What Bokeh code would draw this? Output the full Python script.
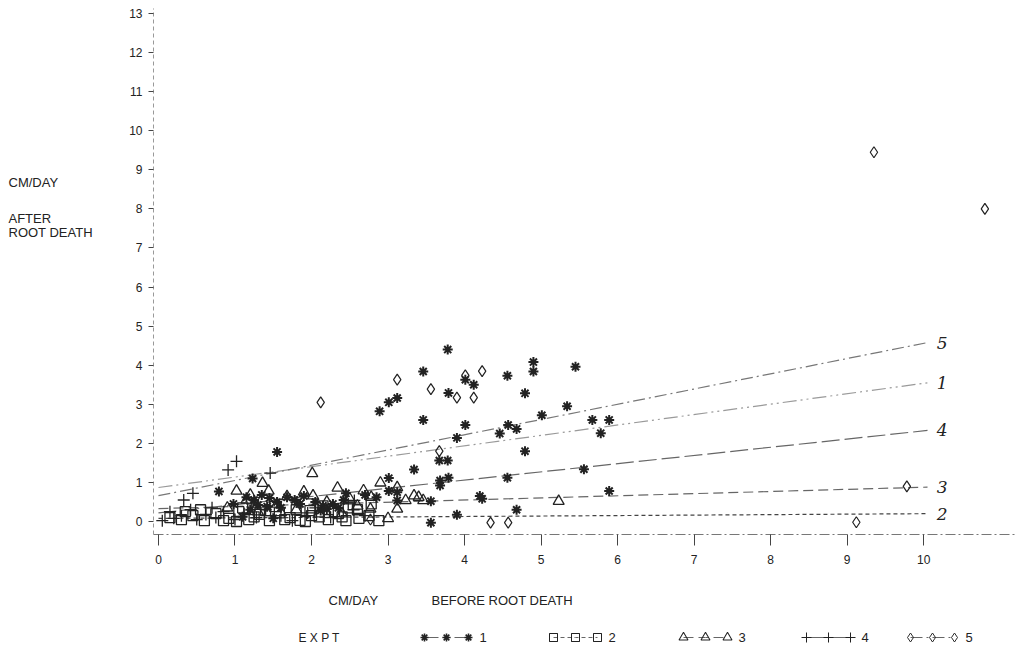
from bokeh.plotting import figure
from bokeh.layouts import column, row
from bokeh.models import FixedTicker
from bokeh.embed import file_html
from bokeh.resources import INLINE
from bokeh.core.properties import value

# Root elongation, cm/day, before (x) and after (y) root death, by experiment
x1 = [3.78, 3.46, 2.89, 3.01, 3.12, 3.79, 4.01, 4.12, 4.56, 4.90, 4.90, 5.45, 4.79,
      3.46, 4.01, 3.90, 4.46, 4.57, 4.68, 5.01, 5.34, 5.67, 5.89, 5.78, 4.79, 3.67,
      3.78, 3.34, 3.01, 3.01, 3.12, 3.68, 3.79, 3.68, 4.56, 5.56, 5.89, 4.23, 4.20,
      3.56, 3.12, 4.68, 3.90, 3.56, 1.55, 0.79, 1.23,
      1.15, 1.25, 1.35, 1.45, 1.30, 1.42, 1.55, 1.68, 1.78, 1.90, 2.05, 2.15, 2.20,
      2.28, 2.35, 1.20, 1.60, 1.85, 2.42, 0.98, 1.10, 1.50, 2.12, 2.70, 2.85, 2.45]
y1 = [4.40, 3.84, 2.82, 3.05, 3.16, 3.29, 3.63, 3.50, 3.73, 4.08, 3.84, 3.96, 3.28,
      2.60, 2.47, 2.14, 2.25, 2.47, 2.37, 2.72, 2.95, 2.60, 2.60, 2.26, 1.80, 1.56,
      1.56, 1.33, 1.11, 0.78, 0.75, 1.05, 1.12, 0.92, 1.12, 1.34, 0.78, 0.58, 0.65,
      0.52, 0.54, 0.30, 0.17, -0.03, 1.78, 0.77, 1.10,
      0.62, 0.55, 0.68, 0.60, 0.42, 0.38, 0.50, 0.62, 0.55, 0.65, 0.50, 0.40, 0.32,
      0.45, 0.35, 0.30, 0.35, 0.45, 0.55, 0.45, 0.12, 0.08, 0.28, 0.68, 0.62, 0.72]

x2 = [0.15, 0.30, 0.45, 0.60, 0.75, 0.92, 1.05, 1.18, 1.32, 1.45, 1.58, 1.72, 1.85,
      1.98, 2.10, 2.22, 2.35, 2.48, 2.62, 2.75, 2.88, 0.35, 0.55, 0.85, 1.10, 1.25,
      1.40, 1.65, 1.80, 2.00, 2.15, 2.30, 2.45, 2.60, 2.78, 1.02, 1.52, 1.92, 2.40]
y2 = [0.10, 0.05, 0.15, 0.02, 0.20, 0.08, 0.25, 0.05, 0.18, 0.02, 0.22, 0.10, 0.03,
      0.28, 0.12, 0.05, 0.20, 0.35, 0.08, 0.15, 0.02, 0.25, 0.30, 0.02, 0.35, 0.12,
      0.28, 0.05, 0.30, 0.15, 0.40, 0.25, 0.02, 0.30, 0.45, 0.00, 0.38, 0.00, 0.12]

x3 = [2.01, 1.36, 1.02, 1.44, 1.90, 2.02, 1.68, 2.34, 2.68, 2.90, 3.12, 3.34, 3.23,
      3.46, 2.78, 3.00, 5.23, 2.77, 1.15, 1.55, 2.20, 2.50, 0.90, 1.30, 1.80, 2.40,
      3.40, 2.60, 1.20, 2.10, 3.12]
y3 = [1.23, 0.98, 0.78, 0.78, 0.76, 0.66, 0.64, 0.86, 0.79, 0.99, 0.87, 0.66, 0.54,
      0.54, 0.62, 0.08, 0.52, 0.32, 0.55, 0.45, 0.50, 0.58, 0.35, 0.25, 0.30, 0.20,
      0.62, 0.40, 0.68, 0.20, 0.32]

x4 = [1.02, 0.91, 1.46, 0.45, 0.33, 2.56, 0.05, 0.20, 0.30, 0.50, 0.62, 0.75, 0.85,
      1.00, 1.12, 1.28, 1.40, 1.60, 1.75, 1.95, 2.05, 2.25, 2.48, 2.55, 0.15, 1.22,
      1.80, 2.70, 0.42, 0.70]
y4 = [1.54, 1.32, 1.24, 0.72, 0.55, 0.54, 0.02, 0.08, 0.15, 0.05, 0.18, 0.10, 0.25,
      0.05, 0.20, 0.10, 0.30, 0.15, 0.02, 0.22, 0.35, 0.10, 0.45, 0.30, 0.25, 0.45,
      0.50, 0.15, 0.30, 0.35]

x5 = [2.12, 3.12, 3.56, 4.01, 4.23, 3.90, 4.12, 3.67, 4.34, 4.57, 9.12, 9.78, 9.35,
      10.80, 2.77]
y5 = [3.05, 3.63, 3.39, 3.74, 3.85, 3.17, 3.17, 1.80, -0.03, -0.03, -0.02, 0.90, 9.45,
      8.00, 0.05]

expts = ["1", "2", "3", "4", "5"]
# fitted lines: value at x = 0 and at the right end
fit_x = [0.0, 10.05]
fit_start = [0.87, 0.08, 0.33, 0.22, 0.66]
fit_end = [3.55, 0.20, 0.88, 2.33, 4.58]

y_title = ["CM/DAY", "AFTER", "ROOT DEATH"]
x_title = ["CM/DAY", "BEFORE ROOT DEATH"]
legend_title = "E X P T"

xs = [x1, x2, x3, x4, x5]
ys = [y1, y2, y3, y4, y5]
markers = ["asterisk", "square", "triangle", "cross", "diamond"]
msizes = [10, 10, 11, 12, 11]
mwidths = [2.0, 1.3, 1.3, 1.3, 1.2]
line_dash = ["14 4 2 4 2 4", "4 3", "10 5", "18 5", "12 4 2 4"]
line_color = ["#9a9a9a", "#444444", "#666666", "#666666", "#777777"]
ink = "#222222"
sans = "Liberation Sans"


def bare(fig):
    fig.outline_line_color = None
    fig.axis.visible = False
    fig.xgrid.visible = False
    fig.ygrid.visible = False
    return fig


# main scatter panel
p = figure(width=899, height=580, x_range=(-0.065, 11.2), y_range=(-0.333, 13.13),
           output_backend="svg", toolbar_location=None,
           min_border_left=33, min_border_right=4, min_border_top=8,
           min_border_bottom=46)
p.outline_line_color = None
p.xgrid.visible = False
p.ygrid.visible = False

p.xaxis.ticker = FixedTicker(ticks=list(range(0, 11)))
p.xaxis.major_tick_out = 11
p.xaxis.major_tick_in = 0
p.xaxis.minor_tick_line_color = None
p.xaxis.axis_line_color = "#777777"
p.xaxis.axis_line_dash = "10 3 2 3"
p.xaxis.major_tick_line_color = "#444444"
p.xaxis.major_label_standoff = 9
p.xaxis.major_label_text_font = sans
p.xaxis.major_label_text_font_size = "12px"
p.xaxis.major_label_text_color = ink

p.yaxis.ticker = FixedTicker(ticks=list(range(0, 14)))
p.yaxis.major_tick_out = 5
p.yaxis.major_tick_in = 0
p.yaxis.minor_tick_line_color = None
p.yaxis.axis_line_color = "#999999"
p.yaxis.axis_line_dash = "4 3"
p.yaxis.major_tick_line_color = "#444444"
p.yaxis.major_label_standoff = 6
p.yaxis.major_label_text_font = sans
p.yaxis.major_label_text_font_size = "12px"
p.yaxis.major_label_text_color = ink

for i in range(5):
    p.line(fit_x, [fit_start[i], fit_end[i]], line_color=line_color[i],
           line_width=1.2, line_dash=line_dash[i])

for i in range(5):
    fill = ink if markers[i] == "asterisk" else None
    p.scatter(xs[i], ys[i], marker=markers[i], size=msizes[i], line_color=ink,
              fill_color=fill, line_width=mwidths[i])

# handwritten-style tags at the end of each fitted line
p.text(x=[fit_x[1] + 0.12] * 5, y=fit_end, text=expts, text_font=value("DejaVu Serif"),
       text_font_style="italic", text_font_size="17px", text_color=ink,
       text_baseline="middle", text_align="left")

# left-hand y title block (pixel coordinates, origin at bottom)
side = bare(figure(width=120, height=580, x_range=(0, 120), y_range=(0, 580),
                   output_backend="svg", toolbar_location=None, min_border=0))
side.text(x=[8, 8, 8], y=[580 - 192, 580 - 232, 580 - 247], text=y_title,
          text_font=value(sans), text_font_size="13px", text_color=ink,
          text_baseline="middle", text_align="left")

# bottom strip: x title and legend
foot = bare(figure(width=1019, height=73, x_range=(0, 1019), y_range=(0, 73),
                   output_backend="svg", toolbar_location=None, min_border=0))
foot.text(x=[328, 431], y=[73 - 20, 73 - 20], text=x_title, text_font=value(sans),
          text_font_size="13px", text_color=ink, text_baseline="middle",
          text_align="left")

row_y = 73 - 57
group_x = [424, 553, 683, 806, 910]
gap = 22
foot.text(x=[298], y=[row_y], text=[legend_title], text_font=value(sans),
          text_font_size="12px", text_color=ink, text_baseline="middle")
for i in range(5):
    gx = [group_x[i] + k * gap for k in range(3)]
    foot.line(gx, [row_y] * 3, line_color="#666666", line_width=1,
              line_dash=line_dash[i])
    fill = ink if markers[i] == "asterisk" else None
    foot.scatter(gx, [row_y] * 3, marker=markers[i], size=msizes[i] - 2,
                 line_color=ink, fill_color=fill, line_width=mwidths[i] * 0.8)
    foot.text(x=[gx[-1] + 11], y=[row_y], text=[expts[i]], text_font=value(sans),
              text_font_size="13px", text_color=ink, text_baseline="middle")

layout = column(row(side, p), foot)
open("out.html", "w").write(file_html(layout, INLINE))
